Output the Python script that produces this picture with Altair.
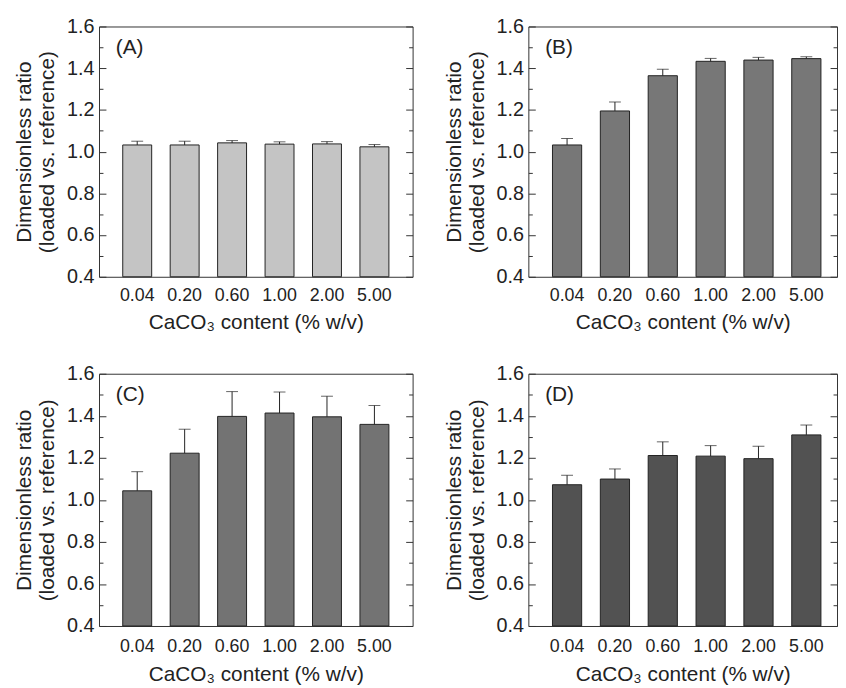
import altair as alt
import pandas as pd

conc = ["0.04", "0.20", "0.60", "1.00", "2.00", "5.00"]

a_mean = [1.032, 1.032, 1.042, 1.036, 1.037, 1.023]
a_err = [0.018, 0.018, 0.011, 0.011, 0.011, 0.011]
b_mean = [1.032, 1.195, 1.364, 1.433, 1.439, 1.446]
b_err = [0.031, 0.043, 0.031, 0.014, 0.013, 0.009]
c_mean = [1.043, 1.222, 1.397, 1.413, 1.395, 1.359]
c_err = [0.091, 0.114, 0.118, 0.100, 0.098, 0.090]
d_mean = [1.072, 1.099, 1.211, 1.208, 1.196, 1.309]
d_err = [0.045, 0.048, 0.065, 0.050, 0.059, 0.047]

labels = ["(A)", "(B)", "(C)", "(D)"]
fills = ["#c4c4c4", "#777777", "#737373", "#525252"]

major = [0.4, 0.6, 0.8, 1.0, 1.2, 1.4, 1.6]
minor = [0.5, 0.7, 0.9, 1.1, 1.3, 1.5]
y_floor = 0.4

FONT = "Liberation Sans"
INK = "#222222"


def panel(mean, err, fill, label, width, height, pad_outer, align, lab_pad, tit_pad):
    df = pd.DataFrame({
        "conc": conc,
        "mean": mean,
        "top": [m + e for m, e in zip(mean, err)],
    })
    base = alt.Chart(df)
    ysc = alt.Scale(domain=[0.4, 1.6], nice=False, zero=False)
    xenc = alt.X(
        "conc:N", sort=conc,
        scale=alt.Scale(paddingInner=0.39, paddingOuter=pad_outer, align=align),
        axis=alt.Axis(
            title="CaCO₃ content (% w/v)", labelAngle=0, ticks=False, tickSize=0,
            domain=False, labelFontSize=18, labelPadding=lab_pad, titleFontSize=21,
            titlePadding=tit_pad,
        ),
    )
    left_major = alt.Axis(
        orient="left", values=major, format=".1f", tickSize=7, offset=-7,
        labelPadding=5, labelFontSize=20, labelFlush=False, domain=False,
        grid=False, title=["Dimensionless ratio", "(loaded vs. reference)"],
        titleFontSize=21, titlePadding=9, titleLineHeight=23,
    )
    left_minor = alt.Axis(
        orient="left", values=minor, labels=False, tickSize=4, offset=-4,
        domain=False, grid=False, title=None,
    )
    right_major = alt.Axis(
        orient="right", values=major, labels=False, tickSize=7, offset=-7,
        domain=False, grid=False, title=None,
    )
    right_minor = alt.Axis(
        orient="right", values=minor, labels=False, tickSize=4, offset=-4,
        domain=False, grid=False, title=None,
    )
    bars = base.mark_bar(fill=fill, stroke=INK, strokeWidth=1).encode(
        x=xenc, y=alt.Y("mean:Q", scale=ysc, axis=left_major),
        y2=alt.datum(y_floor),
    )
    rules = base.mark_rule(color=INK, strokeWidth=1).encode(
        x=xenc, y=alt.Y("mean:Q", scale=ysc, axis=left_minor), y2="top:Q"
    )
    caps = base.mark_tick(color=INK, size=12, thickness=1).encode(
        x=xenc, y=alt.Y("top:Q", scale=ysc, axis=right_major)
    )
    ghost = base.mark_tick(opacity=0).encode(
        x=xenc, y=alt.Y("top:Q", scale=ysc, axis=right_minor)
    )
    txt = alt.Chart(pd.DataFrame({"t": [label]})).mark_text(
        align="left", baseline="middle", fontSize=21, font=FONT, color=INK
    ).encode(x=alt.value(17), y=alt.value(22), text="t:N")
    return alt.layer(bars, rules, caps, ghost, txt).resolve_scale(
        y="independent"
    ).properties(width=width, height=height)


pA = panel(a_mean, a_err, fills[0], labels[0], 317, 253, 0.5, 0.5, 10, 7)
pB = panel(b_mean, b_err, fills[1], labels[1], 312, 253, 0.42, 0.6, 10, 7)
pC = panel(c_mean, c_err, fills[2], labels[2], 317, 255, 0.5, 0.5, 12, 8)
pD = panel(d_mean, d_err, fills[3], labels[3], 312, 255, 0.42, 0.6, 12, 8)

chart = alt.concat(
    pA, pB, pC, pD, columns=2, spacing={"row": 98, "column": 117}, bounds="flush"
).properties(
    padding={"left": 5, "top": 4, "right": 0, "bottom": 0}
).configure_view(
    stroke="#333333", strokeWidth=1
).configure_axis(
    labelFont=FONT, titleFont=FONT, labelColor=INK, titleColor=INK,
    titleFontWeight="normal", tickColor="#333333", tickWidth=1,
)

chart.save("out.html", embed_options={"renderer": "svg", "actions": False})
